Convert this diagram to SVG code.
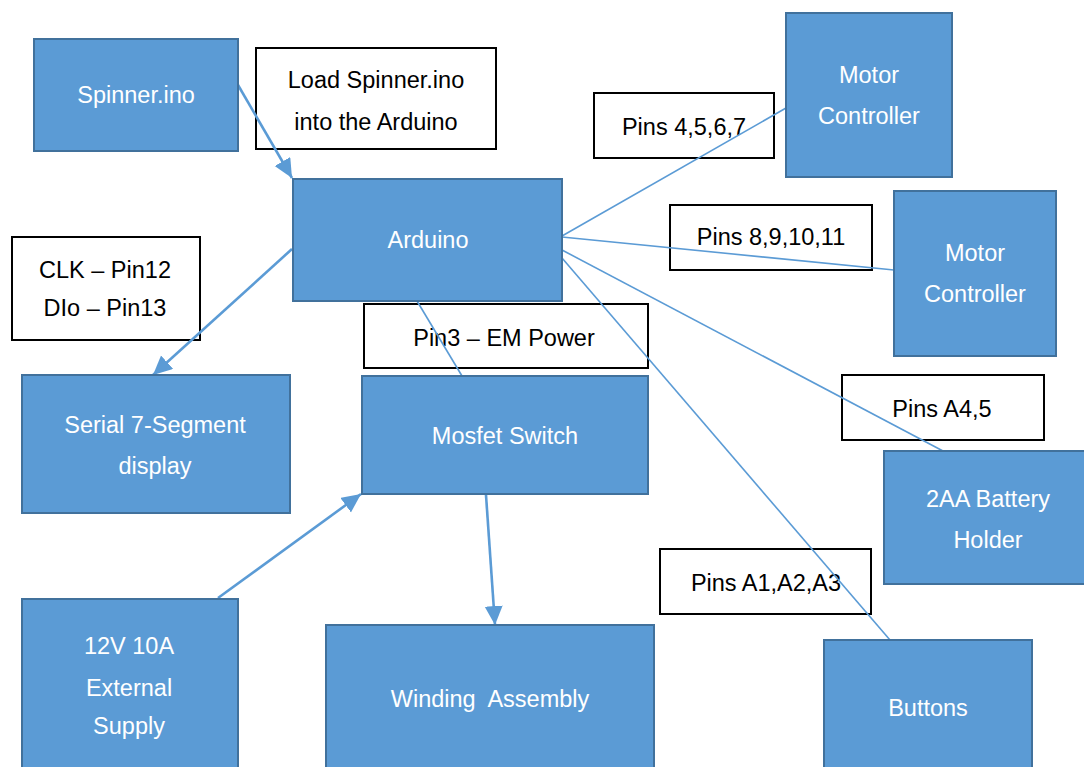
<svg xmlns="http://www.w3.org/2000/svg" width="1084" height="767" viewBox="0 0 1084 767">
<style>
.node rect{fill:#5B9BD5;stroke:#41719C;stroke-width:2}
.node text{fill:#ffffff;font-family:"Liberation Sans",Arial,sans-serif;font-size:23.5px;text-anchor:middle;dominant-baseline:central}
.lbl rect{fill:#ffffff;stroke:#000000;stroke-width:2}
.lbl text{fill:#000000;font-family:"Liberation Sans",Arial,sans-serif;font-size:23.5px;text-anchor:middle;dominant-baseline:central}
.thin{stroke:#5B9BD5;stroke-width:1.6;fill:none}
.arr{stroke:#5B9BD5;stroke-width:2.6;fill:none;marker-end:url(#ah)}
</style>
<defs>
<marker id="ah" markerUnits="userSpaceOnUse" markerWidth="22" markerHeight="20" refX="19" refY="9" orient="auto">
<path d="M0,0 L19,9 L0,18 Z" fill="#5B9BD5"/>
</marker>
</defs>
<rect width="1084" height="767" fill="#ffffff"/>
<g id="label-load" class="lbl"><rect x="256" y="48" width="240" height="101"/><text x="376" y="80">Load Spinner.ino</text><text x="376" y="122">into the Arduino</text></g>
<g id="label-pins4567" class="lbl"><rect x="594" y="93" width="180" height="65"/><text x="684" y="127">Pins 4,5,6,7</text></g>
<g id="label-pins891011" class="lbl"><rect x="670" y="205" width="202" height="65"/><text x="771" y="237">Pins 8,9,10,11</text></g>
<g id="label-clk" class="lbl"><rect x="12" y="237" width="188" height="103"/><text x="105" y="270">CLK – Pin12</text><text x="105" y="308">DIo – Pin13</text></g>
<g id="label-pin3" class="lbl"><rect x="364" y="304" width="284" height="64"/><text x="504" y="338">Pin3 – EM Power</text></g>
<g id="label-pinsA45" class="lbl"><rect x="842" y="375" width="202" height="65"/><text x="942" y="409">Pins A4,5</text></g>
<g id="label-pinsA123" class="lbl"><rect x="660" y="549" width="211" height="65"/><text x="766" y="583">Pins A1,A2,A3</text></g>
<g id="connectors">
<line class="arr" x1="238" y1="85" x2="292" y2="178"/>
<line class="arr" x1="292" y1="249" x2="153" y2="375"/>
<line class="arr" x1="218" y1="598" x2="361" y2="494"/>
<line class="arr" x1="486" y1="495" x2="495" y2="625"/>
<line class="thin" x1="562" y1="236" x2="786" y2="108"/>
<line class="thin" x1="562" y1="237" x2="894" y2="270"/>
<line class="thin" x1="562" y1="250" x2="943" y2="451"/>
<line class="thin" x1="562" y1="258" x2="890" y2="640"/>
<line class="thin" x1="417" y1="301" x2="462" y2="376"/>
</g>
<g id="spinner" class="node"><rect x="34" y="39" width="204" height="112"/><text x="136" y="95">Spinner.ino</text></g>
<g id="arduino" class="node"><rect x="293" y="179" width="269" height="122"/><text x="428" y="240">Arduino</text></g>
<g id="motor1" class="node"><rect x="786" y="13" width="166" height="164"/><text x="869" y="75">Motor</text><text x="869" y="116">Controller</text></g>
<g id="motor2" class="node"><rect x="894" y="191" width="162" height="165"/><text x="975" y="253">Motor</text><text x="975" y="294">Controller</text></g>
<g id="segment" class="node"><rect x="22" y="375" width="268" height="138"/><text x="155" y="425">Serial 7-Segment</text><text x="155" y="466">display</text></g>
<g id="mosfet" class="node"><rect x="362" y="376" width="286" height="118"/><text x="505" y="436">Mosfet Switch</text></g>
<g id="battery" class="node"><rect x="884" y="451" width="202" height="133"/><text x="988" y="499">2AA Battery</text><text x="988" y="540">Holder</text></g>
<g id="supply" class="node"><rect x="22" y="599" width="216" height="172"/><text x="129" y="646">12V 10A</text><text x="129" y="688">External</text><text x="129" y="726">Supply</text></g>
<g id="winding" class="node"><rect x="326" y="625" width="328" height="146"/><text x="490" y="699">Winding&#160; Assembly</text></g>
<g id="buttons" class="node"><rect x="824" y="640" width="208" height="131"/><text x="928" y="708">Buttons</text></g>
</svg>
